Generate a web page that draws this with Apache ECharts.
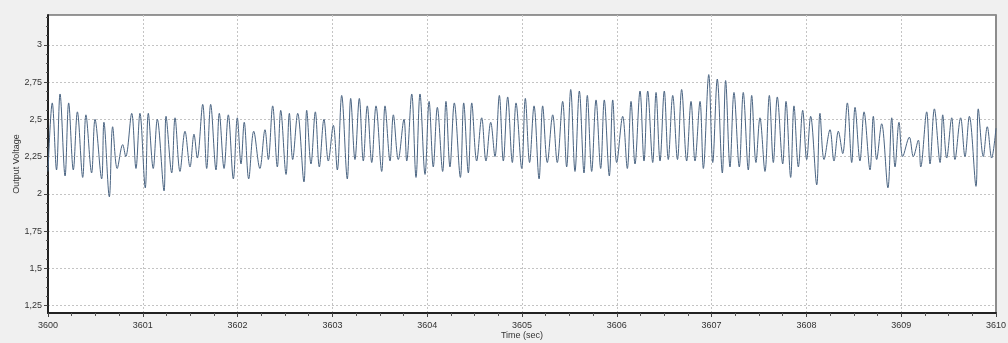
<!DOCTYPE html>
<html>
<head>
<meta charset="utf-8">
<script src="https://cdn.jsdelivr.net/npm/echarts@6/dist/echarts.min.js"></script>
<style>
    body { margin: 0; background: #f0f0f0; }
    #chart { width: 1008px; height: 343px; }
</style>
</head>
<body>
<div id="chart"></div>
<script>
// time origin of the record (sec)
let t0 = 3600;

// peaks: time offset (sec) and voltage
let peakTimes = [
    0.045, 0.127, 0.218, 0.31, 0.40, 0.496, 0.59, 0.682, 0.788, 0.883,
    0.97, 1.058, 1.153, 1.245, 1.34, 1.445, 1.54, 1.632, 1.716, 1.807,
    1.902, 1.997, 2.07, 2.17, 2.289, 2.37, 2.455, 2.546, 2.634, 2.729,
    2.82, 2.911, 3.01, 3.098, 3.193, 3.284, 3.368, 3.46, 3.555, 3.643,
    3.755, 3.837, 3.924, 4.02, 4.107, 4.198, 4.286, 4.385, 4.47, 4.575,
    4.67, 4.761, 4.849, 4.937, 5.035, 5.127, 5.218, 5.324, 5.429, 5.514,
    5.605, 5.689, 5.781, 5.868, 5.957, 6.062, 6.15, 6.245, 6.326, 6.414,
    6.501, 6.59, 6.684, 6.783, 6.878, 6.97, 7.06, 7.148, 7.236, 7.334,
    7.423, 7.51, 7.609, 7.693, 7.785, 7.869, 7.961, 8.045, 8.143, 8.249,
    8.337, 8.432, 8.513, 8.608, 8.706, 8.794, 8.9, 8.977, 9.086, 9.181,
    9.269, 9.35, 9.438, 9.533, 9.627, 9.719, 9.813, 9.908
];
let peakVolts = [
    2.61, 2.67, 2.61, 2.55, 2.53, 2.50, 2.48, 2.45, 2.33, 2.54,
    2.54, 2.54, 2.50, 2.52, 2.51, 2.42, 2.40, 2.60, 2.60, 2.54,
    2.53, 2.51, 2.48, 2.42, 2.43, 2.59, 2.56, 2.54, 2.54, 2.56,
    2.55, 2.50, 2.46, 2.66, 2.64, 2.64, 2.59, 2.59, 2.59, 2.53,
    2.50, 2.67, 2.67, 2.62, 2.58, 2.62, 2.61, 2.61, 2.61, 2.51,
    2.48, 2.66, 2.65, 2.61, 2.64, 2.59, 2.59, 2.53, 2.62, 2.70,
    2.69, 2.66, 2.63, 2.63, 2.63, 2.52, 2.62, 2.69, 2.69, 2.68,
    2.69, 2.66, 2.70, 2.62, 2.62, 2.80, 2.77, 2.76, 2.68, 2.68,
    2.66, 2.51, 2.66, 2.65, 2.62, 2.59, 2.56, 2.52, 2.54, 2.43,
    2.42, 2.61, 2.58, 2.55, 2.52, 2.47, 2.51, 2.48, 2.38, 2.36,
    2.55, 2.57, 2.53, 2.51, 2.51, 2.52, 2.57, 2.45
];

// troughs following each peak
let troughTimes = [
    0.09, 0.18, 0.267, 0.366, 0.46, 0.566, 0.647, 0.73, 0.82, 0.928,
    1.026, 1.11, 1.224, 1.305, 1.392, 1.498, 1.575, 1.674, 1.772, 1.857,
    1.955, 2.036, 2.117, 2.235, 2.324, 2.419, 2.511, 2.581, 2.70, 2.774,
    2.862, 2.957, 3.052, 3.157, 3.238, 3.326, 3.415, 3.52, 3.608, 3.695,
    3.784, 3.882, 3.977, 4.064, 4.163, 4.24, 4.35, 4.434, 4.522, 4.62,
    4.715, 4.803, 4.898, 4.997, 5.08, 5.18, 5.267, 5.372, 5.471, 5.559,
    5.654, 5.735, 5.83, 5.921, 5.999, 6.111, 6.192, 6.287, 6.379, 6.456,
    6.543, 6.64, 6.737, 6.825, 6.913, 7.012, 7.113, 7.194, 7.292, 7.387,
    7.468, 7.563, 7.651, 7.75, 7.834, 7.915, 8.003, 8.109, 8.186, 8.291,
    8.383, 8.478, 8.565, 8.671, 8.741, 8.86, 8.935, 9.016, 9.128, 9.206,
    9.304, 9.41, 9.48, 9.567, 9.673, 9.789, 9.866, 9.954
];
let troughVolts = [
    2.16, 2.12, 2.16, 2.11, 2.14, 2.10, 1.98, 2.17, 2.25, 2.17,
    2.04, 2.17, 2.02, 2.14, 2.15, 2.18, 2.24, 2.17, 2.16, 2.17,
    2.10, 2.20, 2.10, 2.17, 2.23, 2.18, 2.13, 2.23, 2.08, 2.20,
    2.18, 2.22, 2.16, 2.10, 2.23, 2.22, 2.21, 2.15, 2.22, 2.23,
    2.22, 2.11, 2.13, 2.18, 2.15, 2.18, 2.11, 2.14, 2.22, 2.22,
    2.25, 2.22, 2.21, 2.17, 2.21, 2.10, 2.21, 2.21, 2.18, 2.15,
    2.14, 2.15, 2.17, 2.12, 2.21, 2.17, 2.20, 2.22, 2.21, 2.22,
    2.23, 2.23, 2.22, 2.22, 2.17, 2.21, 2.14, 2.18, 2.18, 2.16,
    2.21, 2.15, 2.21, 2.20, 2.11, 2.18, 2.23, 2.06, 2.23, 2.22,
    2.27, 2.21, 2.22, 2.16, 2.23, 2.04, 2.18, 2.25, 2.25, 2.18,
    2.20, 2.21, 2.24, 2.23, 2.25, 2.05, 2.25, 2.24
];

// first and last samples of the window
let startVolt = 2.15;
let endVolt = 2.44;

let yLabels = [1.25, 1.5, 1.75, 2, 2.25, 2.5, 2.75, 3];
let yMinorTicks = [
    1.3125, 1.375, 1.4375, 1.5625, 1.625, 1.6875, 1.8125, 1.875, 1.9375,
    2.0625, 2.125, 2.1875, 2.3125, 2.375, 2.4375, 2.5625, 2.625, 2.6875,
    2.8125, 2.875, 2.9375, 3.0625, 3.125, 3.1875
];

function build_trace()
{
    let data = [[t0, startVolt]];
    for (let i = 0; i < peakTimes.length; i++)
    {
        data.push([t0 + peakTimes[i], peakVolts[i]]);
        data.push([t0 + troughTimes[i], troughVolts[i]]);
    }
    data.push([t0 + 10, endVolt]);
    return data;
}

let myChart = echarts.init(document.getElementById("chart"));

let labelFont = {
    color: '#333',
    fontSize: 9,
    fontFamily: 'Liberation Sans'
};
let gridDash = { color: '#c4c4c4', type: [2, 2] };

let option = {
    animation: false,
    backgroundColor: '#f0f0f0',
    grid: {
        left: 48,
        right: 12,
        top: 15,
        bottom: 30,
        outerBoundsMode: 'none',
        show: true,
        backgroundColor: '#fff',
        borderColor: '#333',
        borderWidth: 1
    },
    xAxis: {
        type: 'value',
        min: 3600,
        max: 3610,
        interval: 1,
        name: 'Time (sec)',
        nameLocation: 'middle',
        nameGap: 18,
        nameMoveOverlap: false,
        nameTextStyle: labelFont,
        axisLine: { lineStyle: { color: '#222', width: 2 } },
        axisTick: { show: true, length: 4, lineStyle: { color: '#444' } },
        minorTick: { show: true, splitNumber: 4, length: 3, lineStyle: { color: '#555' } },
        axisLabel: Object.assign({
            margin: 8,
            formatter: function (v) { return String(v); }
        }, labelFont),
        splitLine: { show: true, lineStyle: gridDash }
    },
    yAxis: [
        {
            type: 'value',
            position: 'left',
            min: 1.2,
            max: 3.2,
            name: 'Output Voltage',
            nameLocation: 'middle',
            nameGap: 27,
            nameMoveOverlap: false,
            nameTextStyle: labelFont,
            axisLine: { show: true, lineStyle: { color: '#222', width: 2 } },
            axisTick: { show: true, length: 4, customValues: yLabels, lineStyle: { color: '#444' } },
            axisLabel: Object.assign({
                margin: 6,
                customValues: yLabels,
                formatter: function (v) { return String(v).replace('.', ','); }
            }, labelFont),
            splitLine: { show: true, lineStyle: gridDash }
        },
        {
            // minor ticks on the voltage axis
            type: 'value',
            position: 'left',
            min: 1.2,
            max: 3.2,
            axisLine: { show: false },
            axisTick: { show: true, length: 2, customValues: yMinorTicks, lineStyle: { color: '#555' } },
            axisLabel: { show: false },
            splitLine: { show: false }
        },
        {
            // right frame line
            type: 'value',
            position: 'right',
            min: 1.2,
            max: 3.2,
            axisLine: { show: true, lineStyle: { color: '#8c8c8c', width: 2 } },
            axisTick: { show: false },
            axisLabel: { show: false },
            splitLine: { show: false }
        }
    ],
    series: [{
        type: 'line',
        data: build_trace(),
        symbol: 'none',
        smooth: 0.35,
        lineStyle: { color: '#4a6482', width: 1 }
    }]
};

myChart.setOption(option);
</script>
</body>
</html>
